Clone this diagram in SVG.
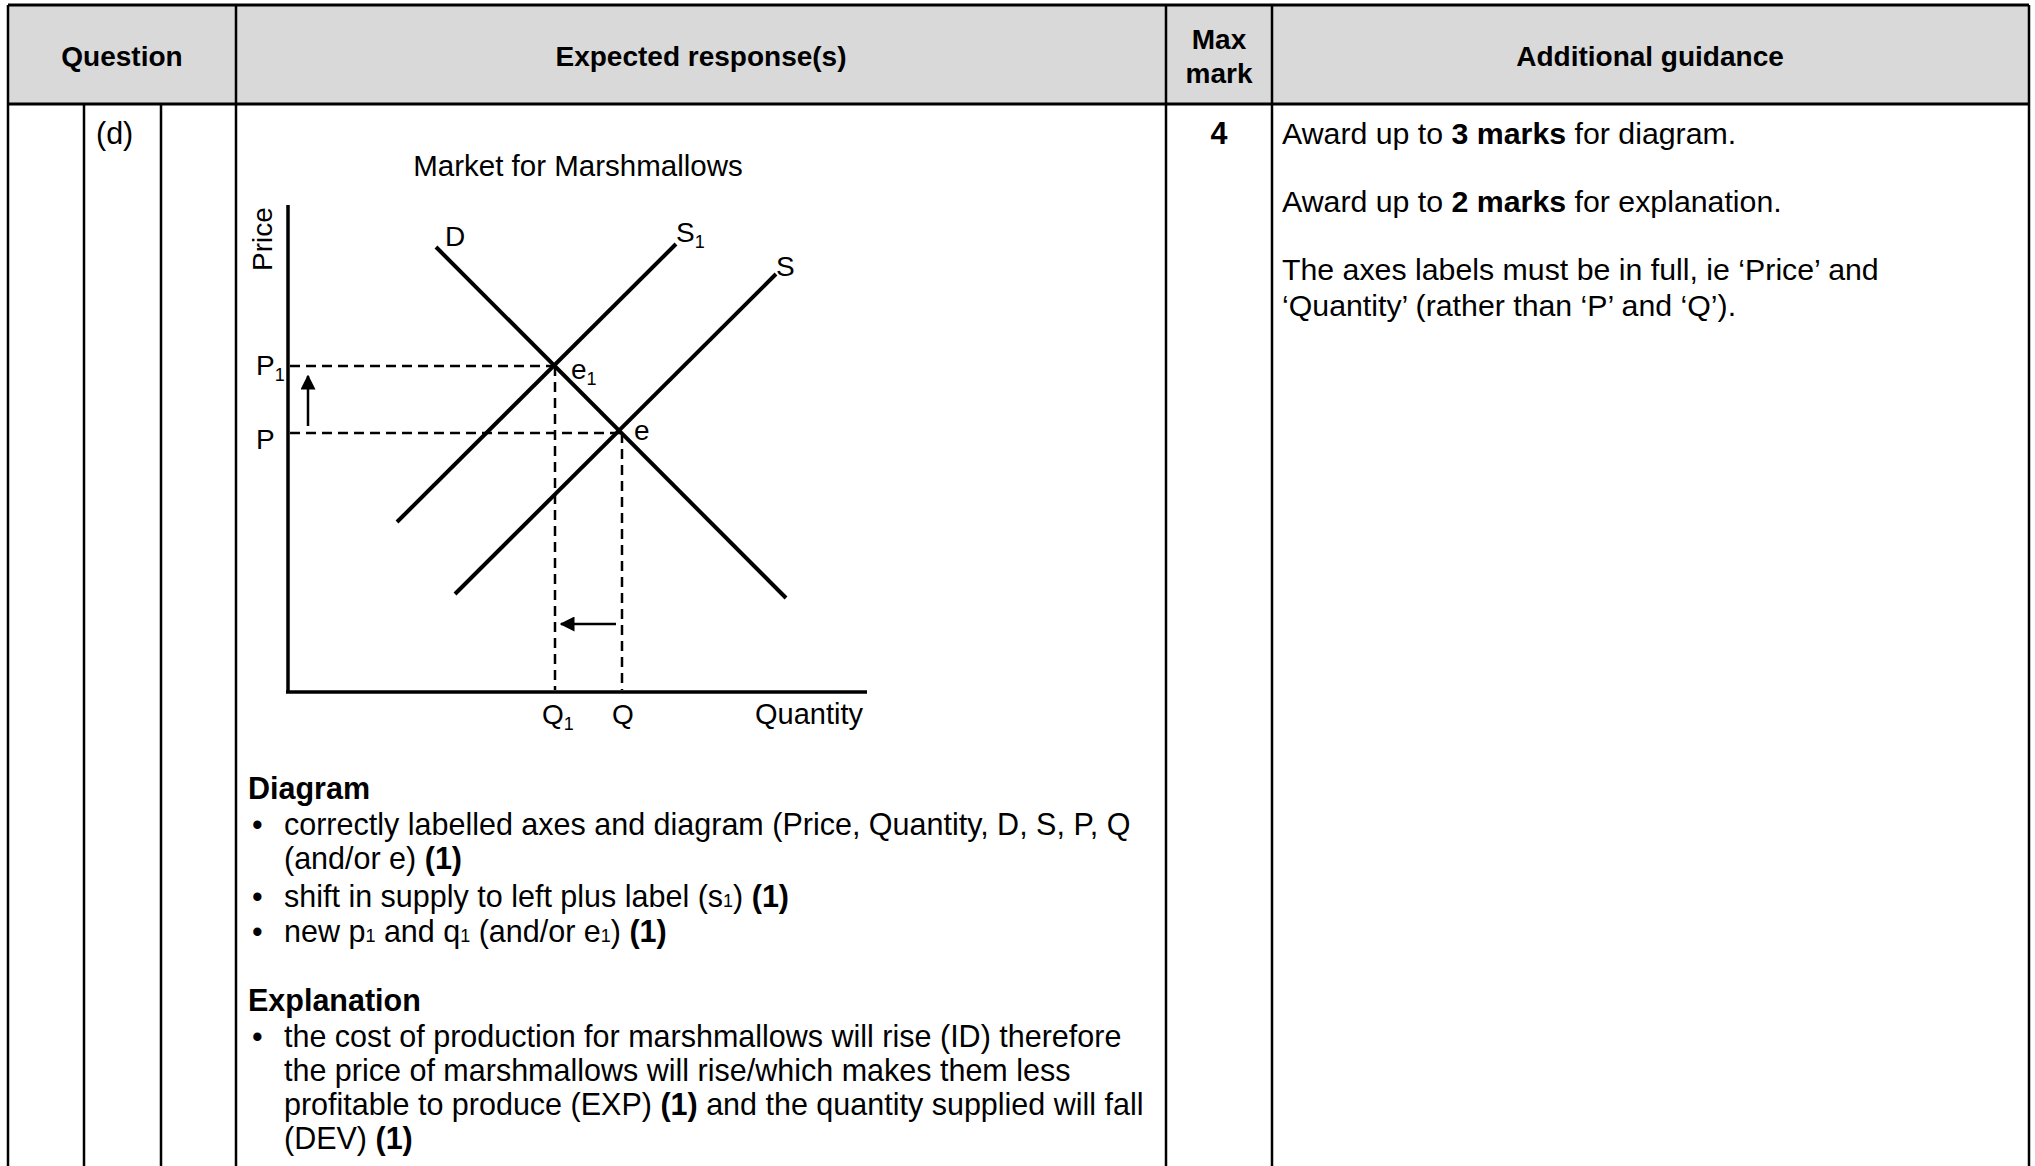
<svg xmlns="http://www.w3.org/2000/svg" width="2035" height="1166" viewBox="0 0 2035 1166">
<style>
.t{font-family:"Liberation Sans",Arial,sans-serif;font-size:30.5px;fill:#000}
.g{font-size:30.3px}
.b{font-weight:bold}
.h{font-family:"Liberation Sans",Arial,sans-serif;font-size:28px;font-weight:bold;text-anchor:middle;fill:#000}
.c{font-family:"Liberation Sans",Arial,sans-serif;font-size:28px;fill:#000}
.sub{font-size:18px}
.grid{stroke:#000;stroke-width:2.5;fill:none}
.curve{stroke:#000;stroke-width:4;fill:none}
.axis{stroke:#000;stroke-width:3.5;fill:none}
.dash{stroke:#000;stroke-width:2.5;stroke-dasharray:10 6;fill:none}
.arr{stroke:#000;stroke-width:2.5;fill:none}
</style>
<defs>
<marker id="ah" viewBox="0 0 10 10" refX="9" refY="5" markerWidth="6" markerHeight="6" markerUnits="strokeWidth" orient="auto">
<path d="M0,0 L10,5 L0,10 z" fill="#000"/>
</marker>
</defs>
<rect width="2035" height="1166" fill="#fff"/>

<g id="table">
<rect x="8" y="5" width="2021" height="99" fill="#d9d9d9"/>
<line class="grid" x1="8" y1="5" x2="2029" y2="5" style="stroke-width:3"/>
<line class="grid" x1="8" y1="104" x2="2029" y2="104" style="stroke-width:3"/>
<line class="grid" x1="8" y1="5" x2="8" y2="1166"/>
<line class="grid" x1="2029" y1="5" x2="2029" y2="1166"/>
<line class="grid" x1="236" y1="5" x2="236" y2="1166"/>
<line class="grid" x1="1166" y1="5" x2="1166" y2="1166"/>
<line class="grid" x1="1272" y1="5" x2="1272" y2="1166"/>
<line class="grid" x1="84" y1="104" x2="84" y2="1166"/>
<line class="grid" x1="161" y1="104" x2="161" y2="1166"/>
</g>

<g id="header">
<text class="h" x="122" y="66">Question</text>
<text class="h" x="701" y="66">Expected response(s)</text>
<text class="h" x="1219" y="49">Max</text>
<text class="h" x="1219" y="83">mark</text>
<text class="h" x="1650" y="66">Additional guidance</text>
</g>

<g id="question">
<text class="t" x="96" y="144">(d)</text>
</g>

<g id="maxmark">
<text class="t b" x="1219" y="144" text-anchor="middle">4</text>
</g>

<g id="guidance">
<text class="t g" x="1282" y="144">Award up to <tspan class="b">3 marks</tspan> for diagram.</text>
<text class="t g" x="1282" y="212">Award up to <tspan class="b">2 marks</tspan> for explanation.</text>
<text class="t g" x="1282" y="280">The axes labels must be in full, ie ‘Price’ and</text>
<text class="t g" x="1282" y="316">‘Quantity’ (rather than ‘P’ and ‘Q’).</text>
</g>

<g id="chart">
<text class="t" x="578" y="176" text-anchor="middle" style="font-size:29.5px">Market for Marshmallows</text>
<line class="axis" x1="288" y1="205" x2="288" y2="692"/>
<line class="axis" x1="286" y1="692" x2="867" y2="692"/>
<text class="c" transform="translate(272,239) rotate(-90)" text-anchor="middle">Price</text>
<text class="c" x="755" y="724" style="font-size:29px">Quantity</text>
</g>

<g id="connectors">
<line class="dash" x1="290" y1="366" x2="555" y2="366"/>
<line class="dash" x1="290" y1="433" x2="622" y2="433"/>
<line class="dash" x1="555" y1="366" x2="555" y2="690"/>
<line class="dash" x1="622" y1="433" x2="622" y2="690"/>
<line class="curve" x1="436" y1="247" x2="786" y2="598"/>
<line class="curve" x1="397" y1="522" x2="676" y2="244"/>
<line class="curve" x1="455" y1="594" x2="776" y2="274"/>
<line class="arr" x1="308" y1="426" x2="308" y2="376" marker-end="url(#ah)"/>
<line class="arr" x1="616" y1="624" x2="561" y2="624" marker-end="url(#ah)"/>
</g>

<g id="labels">
<text class="c" x="256" y="375">P<tspan class="sub" dy="6">1</tspan></text>
<text class="c" x="256" y="449">P</text>
<text class="c" x="445" y="246">D</text>
<text class="c" x="676" y="242">S<tspan class="sub" dy="6">1</tspan></text>
<text class="c" x="776" y="276">S</text>
<text class="c" x="571" y="379">e<tspan class="sub" dy="6">1</tspan></text>
<text class="c" x="634" y="440">e</text>
<text class="c" x="542" y="724">Q<tspan class="sub" dy="6">1</tspan></text>
<text class="c" x="612" y="724">Q</text>
</g>

<g id="marking">
<text class="t b" x="248" y="799">Diagram</text>
<text class="t" x="252" y="835">•</text>
<text class="t" x="284" y="835">correctly labelled axes and diagram (Price, Quantity, D, S, P, Q</text>
<text class="t" x="284" y="869">(and/or e) <tspan class="b">(1)</tspan></text>
<text class="t" x="252" y="907">•</text>
<text class="t" x="284" y="907">shift in supply to left plus label (s<tspan class="sub">1</tspan>) <tspan class="b">(1)</tspan></text>
<text class="t" x="252" y="942">•</text>
<text class="t" x="284" y="942">new p<tspan class="sub">1</tspan> and q<tspan class="sub">1</tspan> (and/or e<tspan class="sub">1</tspan>) <tspan class="b">(1)</tspan></text>
<text class="t b" x="248" y="1011">Explanation</text>
<text class="t" x="252" y="1047">•</text>
<text class="t" x="284" y="1047">the cost of production for marshmallows will rise (ID) therefore</text>
<text class="t" x="284" y="1081">the price of marshmallows will rise/which makes them less</text>
<text class="t" x="284" y="1115">profitable to produce (EXP) <tspan class="b">(1)</tspan> and the quantity supplied will fall</text>
<text class="t" x="284" y="1149">(DEV) <tspan class="b">(1)</tspan></text>
</g>
</svg>
